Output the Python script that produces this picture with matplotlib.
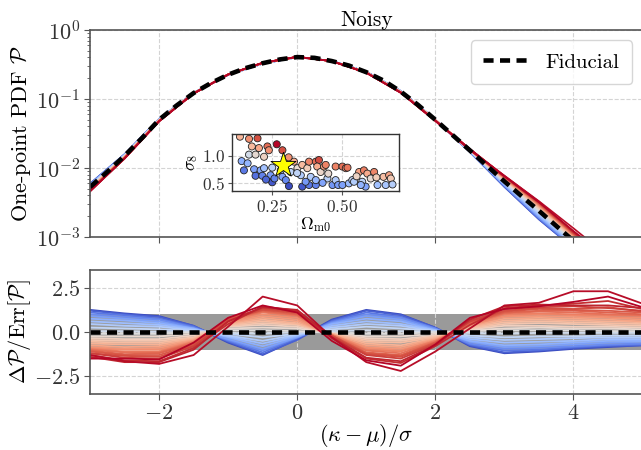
import numpy as np
import matplotlib
matplotlib.use('Agg')
import matplotlib.pyplot as plt

plt.rcParams['font.family'] = 'serif'
plt.rcParams['font.serif'] = ['cmr10']
plt.rcParams['mathtext.fontset'] = 'cm'
plt.rcParams['axes.formatter.use_mathtext'] = True
plt.rcParams['font.size'] = 16

#%%
# fiducial one-point PDF, sampled every 0.25 in (kappa - mu) / sigma
kappa_fine = [-3.0, -2.75, -2.5, -2.25, -2.0, -1.75, -1.5, -1.25, -1.0, -0.75, -0.5, -0.25, 0.0,
              0.25, 0.5, 0.75, 1.0, 1.25, 1.5, 1.75, 2.0, 2.25, 2.5, 2.75, 3.0, 3.25, 3.5,
              3.75, 4.0, 4.25, 4.5, 4.75, 5.0]
pdf_fid = [0.0053, 0.0088, 0.0150, 0.027, 0.050, 0.080, 0.122, 0.170, 0.225, 0.28, 0.33, 0.375,
           0.405, 0.395, 0.355, 0.305, 0.245, 0.185, 0.128, 0.082, 0.050, 0.030, 0.018, 0.0107,
           0.0064, 0.0039, 0.0024, 0.00145, 0.00088, 0.00052, 0.0003, 0.00018, 0.0001]

# grid of the individual cosmologies (every 0.5)
kappa = [-3.0, -2.5, -2.0, -1.5, -1.0, -0.5, 0.0, 0.5, 1.0, 1.5, 2.0, 2.5, 3.0, 3.5, 4.0, 4.5, 5.0]
# error on the PDF (noisy maps)
pdf_err = [0.0005, 0.0008, 0.0015, 0.002, 0.003, 0.003, 0.003, 0.003, 0.003, 0.0025,
           0.002, 0.0012, 0.0009, 0.00055, 0.0002, 0.0001, 0.00004]

# colour value of each cosmology (0 = low S8, 1 = high S8)
line_c = [0.0, 0.05, 0.1, 0.15, 0.2, 0.25, 0.3, 0.35, 0.4, 0.45, 0.5, 0.54, 0.58, 0.62, 0.65,
          0.68, 0.72, 0.75, 0.78, 0.81, 0.84, 0.87, 0.89, 0.91, 0.93, 0.96, 0.97, 0.99, 1.0]
# Delta P / Err[P] for each cosmology
resid = [
    [1.25, 1.05, 0.9, 0.35, -0.6, -1.3, -0.4, 0.7, 1.25, 1.0, 0.25, -0.8, -1.2, -1.1, -0.95, -0.85, -0.75],
    [1.2, 1.0, 0.85, 0.35, -0.55, -1.25, -0.45, 0.65, 1.2, 0.95, 0.25, -0.75, -1.15, -1.05, -0.9, -0.8, -0.75],
    [1.1, 0.95, 0.75, 0.3, -0.5, -1.15, -0.35, 0.6, 1.1, 0.85, 0.2, -0.7, -1.05, -1.0, -0.85, -0.75, -0.7],
    [1.0, 0.85, 0.7, 0.25, -0.45, -1.05, -0.3, 0.55, 1.0, 0.8, 0.2, -0.65, -0.95, -0.9, -0.8, -0.7, -0.65],
    [0.9, 0.75, 0.6, 0.2, -0.4, -0.95, -0.3, 0.5, 0.9, 0.7, 0.15, -0.55, -0.85, -0.8, -0.7, -0.6, -0.55],
    [0.75, 0.65, 0.5, 0.2, -0.3, -0.8, -0.25, 0.45, 0.75, 0.6, 0.1, -0.5, -0.75, -0.7, -0.6, -0.5, -0.5],
    [0.6, 0.5, 0.4, 0.15, -0.25, -0.65, -0.2, 0.35, 0.6, 0.45, 0.1, -0.4, -0.6, -0.55, -0.5, -0.4, -0.4],
    [0.45, 0.35, 0.3, 0.1, -0.2, -0.5, -0.15, 0.25, 0.45, 0.35, 0.05, -0.3, -0.45, -0.4, -0.35, -0.3, -0.3],
    [0.25, 0.2, 0.15, 0.05, -0.1, -0.3, -0.1, 0.15, 0.3, 0.2, 0.05, -0.2, -0.3, -0.25, -0.25, -0.2, -0.2],
    [0.05, 0.05, 0.0, 0.0, -0.05, -0.1, 0.0, 0.05, 0.1, 0.05, 0.0, -0.05, -0.1, -0.05, -0.05, -0.05, -0.05],
    [-0.1, -0.1, -0.1, 0.0, 0.1, 0.1, 0.05, -0.05, -0.1, -0.1, 0.0, 0.05, 0.1, 0.1, 0.1, 0.05, 0.05],
    [-0.25, -0.25, -0.25, -0.1, 0.2, 0.25, 0.2, -0.05, -0.25, -0.25, -0.1, 0.1, 0.2, 0.25, 0.2, 0.2, 0.15],
    [-0.35, -0.4, -0.4, -0.2, 0.3, 0.4, 0.3, -0.1, -0.35, -0.4, -0.2, 0.15, 0.35, 0.35, 0.3, 0.3, 0.25],
    [-0.45, -0.5, -0.5, -0.3, 0.35, 0.5, 0.4, -0.1, -0.45, -0.5, -0.25, 0.2, 0.45, 0.5, 0.45, 0.4, 0.35],
    [-0.55, -0.6, -0.6, -0.35, 0.4, 0.6, 0.45, -0.1, -0.55, -0.6, -0.3, 0.25, 0.55, 0.6, 0.55, 0.5, 0.45],
    [-0.65, -0.7, -0.7, -0.4, 0.45, 0.7, 0.5, -0.1, -0.65, -0.75, -0.35, 0.3, 0.65, 0.7, 0.65, 0.6, 0.55],
    [-0.75, -0.85, -0.8, -0.45, 0.5, 0.8, 0.6, -0.15, -0.75, -0.85, -0.4, 0.35, 0.75, 0.8, 0.75, 0.7, 0.6],
    [-0.85, -0.95, -0.9, -0.5, 0.55, 0.9, 0.7, -0.2, -0.85, -0.95, -0.45, 0.4, 0.85, 0.9, 0.85, 0.8, 0.7],
    [-0.9, -1.0, -1.0, -0.55, 0.6, 1.0, 0.8, -0.15, -0.9, -1.05, -0.5, 0.4, 0.9, 1.0, 0.95, 0.85, 0.8],
    [-0.95, -1.1, -1.1, -0.55, 0.65, 1.1, 0.9, -0.15, -1.0, -1.1, -0.5, 0.45, 1.0, 1.05, 1.0, 0.95, 0.9],
    [-1.0, -1.15, -1.15, -0.6, 0.7, 1.15, 0.95, -0.2, -1.05, -1.2, -0.55, 0.5, 1.05, 1.15, 1.1, 1.0, 0.95],
    [-1.05, -1.25, -1.2, -0.65, 0.75, 1.2, 1.0, -0.25, -1.15, -1.3, -0.6, 0.5, 1.1, 1.2, 1.2, 1.1, 1.0],
    [-1.1, -1.3, -1.3, -0.7, 0.8, 1.3, 1.05, -0.2, -1.2, -1.35, -0.6, 0.55, 1.15, 1.3, 1.25, 1.2, 1.1],
    [-1.2, -1.35, -1.4, -0.75, 0.7, 1.25, 1.1, -0.2, -1.25, -1.4, -0.65, 0.6, 1.2, 1.35, 1.3, 1.4, 1.15],
    [-1.2, -1.45, -1.5, -0.8, 0.6, 1.35, 1.15, -0.25, -1.3, -1.5, -0.7, 0.6, 1.3, 1.4, 1.45, 1.35, 1.2],
    [-1.3, -1.6, -1.65, -0.9, 0.45, 1.45, 1.2, -0.35, -1.5, -1.75, -0.8, 0.4, 1.35, 1.5, 1.6, 1.75, 1.3],
    [-1.4, -1.7, -1.7, -1.0, 0.6, 1.4, 1.25, -0.3, -1.45, -1.65, -0.75, 0.7, 1.45, 1.55, 1.5, 1.5, 1.35],
    [-1.3, -1.65, -1.8, -1.3, 0.3, 2.0, 1.5, -0.3, -1.7, -2.2, -1.1, 0.2, 1.5, 1.65, 2.3, 2.3, 1.6],
    [-1.5, -1.5, -1.55, -0.6, 0.8, 1.5, 1.1, -0.5, -1.6, -1.9, -0.7, 0.8, 1.3, 1.45, 1.7, 2.0, 1.4],
]

# cosmologies of the simulation suite
om_m = [0.138, 0.17, 0.20, 0.18, 0.205, 0.235, 0.24, 0.268, 0.288, 0.17, 0.193, 0.223, 0.144, 0.152,
        0.188, 0.211, 0.223, 0.193, 0.217, 0.252, 0.246, 0.252, 0.282, 0.288, 0.30, 0.311, 0.317,
        0.329, 0.341, 0.353, 0.358, 0.376, 0.382, 0.388, 0.406, 0.417, 0.411, 0.423, 0.435, 0.441,
        0.358, 0.382, 0.406, 0.406, 0.447, 0.465, 0.476, 0.476, 0.50, 0.512, 0.518, 0.485, 0.50,
        0.523, 0.535, 0.559, 0.576, 0.588, 0.612, 0.60, 0.57, 0.582, 0.624, 0.645, 0.665, 0.671,
        0.653, 0.677, 0.565, 0.541, 0.31, 0.34, 0.26, 0.165, 0.23, 0.37, 0.45, 0.55, 0.62, 0.43]
sig_8 = [1.35, 1.31, 1.32, 1.17, 1.14, 1.17, 1.10, 1.21, 1.10, 1.02, 1.02, 0.98, 0.90, 0.73,
         0.75, 0.73, 0.77, 0.63, 0.63, 0.78, 0.64, 0.51, 0.73, 0.61, 0.55, 0.44, 0.70,
         0.89, 0.77, 0.64, 0.83, 0.77, 0.89, 0.61, 0.89, 0.92, 0.80, 0.70, 0.80, 0.83,
         0.43, 0.46, 0.46, 0.55, 0.58, 0.46, 0.55, 0.80, 0.80, 0.77, 0.78, 0.46, 0.46,
         0.49, 0.55, 0.70, 0.73, 0.67, 0.70, 0.58, 0.52, 0.43, 0.46, 0.61, 0.64, 0.58,
         0.46, 0.47, 0.46, 0.52, 0.97, 0.68, 0.58, 0.86, 0.56, 0.52, 0.67, 0.62, 0.60, 0.50]
fid_om, fid_s8 = 0.29, 0.83

#%%
x = np.array(kappa)
fid = np.array(pdf_fid)
err = np.array(pdf_err)
cmap = plt.get_cmap('coolwarm')
edge = '#555555'

fig = plt.figure(figsize=(6.41, 4.5), dpi=100)
ax1 = fig.add_axes([0.1404, 0.4733, 0.8620, 0.4600])
ax2 = fig.add_axes([0.1404, 0.1244, 0.8620, 0.2756])

# lines ordered so the high-S8 (red) cosmologies sit on top
order = np.argsort(line_c, kind='stable')
for i in order:
    r = np.array(resid[i])
    col = cmap(line_c[i])
    ax1.plot(x, fid[::2] + r * err, color=col, lw=1.2)
    ax2.plot(x, r, color=col, lw=1.3)

ax1.plot(kappa_fine, fid, color='k', ls='--', lw=3.3, dashes=(2.2, 1.4), label='Fiducial')
ax1.set_yscale('log')
ax1.set_ylim(1e-3, 1)
ax1.set_xlim(-3, 5)
ax1.set_xticks([-2, 0, 2, 4])
ax1.tick_params(labelbottom=False)
ax1.set_ylabel(r'One-point PDF $\mathcal{P}$')
ax1.set_title('Noisy', fontsize=15.5, pad=2)
ax1.legend(loc='upper right', fontsize=15, handlelength=2.2, borderpad=0.6)

ax2.fill_between([-3, 5], -1, 1, color='#9a9a9a', lw=0, zorder=0)
ax2.axhline(0, color='k', ls='--', lw=3.3, dashes=(2.2, 1.4))
ax2.set_xlim(-3, 5)
ax2.set_ylim(-3.5, 3.5)
ax2.set_xticks([-2, 0, 2, 4])
ax2.set_yticks([-2.5, 0.0, 2.5])
ax2.set_xlabel(r'$(\kappa-\mu)/\sigma$', labelpad=-1)
ax2.set_ylabel(r'$\Delta\mathcal{P}/\mathrm{Err}[\mathcal{P}]$')

for ax in (ax1, ax2):
    ax.grid(ls='--', color='#d4d4d4', lw=0.8)
    ax.set_axisbelow(True)
    for s in ax.spines.values():
        s.set_color(edge)
        s.set_linewidth(1.2)
    ax.tick_params(which='both', color=edge, labelcolor='#333333')
    ax.tick_params(which='major', length=4, pad=3)
    ax.tick_params(which='minor', length=2.5)
ax1.yaxis.set_label_coords(-0.103, 0.5)
ax2.yaxis.set_label_coords(-0.103, 0.5)

# inset: cosmologies in the (Omega_m, sigma_8) plane
axin = fig.add_axes([0.362, 0.5756, 0.2605, 0.1267])
om = np.array(om_m)
s8 = np.array(sig_8)
axin.scatter(om, s8, c=s8 * np.sqrt(om / 0.3), cmap='coolwarm', s=26,
             edgecolors='#222222', linewidths=0.6, zorder=2)
axin.scatter([fid_om], [fid_s8], marker='*', s=360, color='yellow',
             edgecolors='k', linewidths=0.6, zorder=3)
axin.set_xlim(0.11, 0.70)
axin.set_ylim(0.35, 1.40)
axin.set_xticks([0.25, 0.50])
axin.set_yticks([0.5, 1.0])
axin.tick_params(labelsize=12.5, color=edge, labelcolor='#333333', length=3, pad=2)
axin.set_xlabel(r'$\Omega_{\rm m0}$', fontsize=12.5, labelpad=0)
axin.set_ylabel(r'$\sigma_8$', fontsize=12.5, labelpad=1)
axin.grid(ls='--', color='#d4d4d4', lw=0.8)
axin.set_axisbelow(True)
for s in axin.spines.values():
    s.set_color('#333333')
    s.set_linewidth(1.0)

fig.savefig('out.png', dpi=100)
